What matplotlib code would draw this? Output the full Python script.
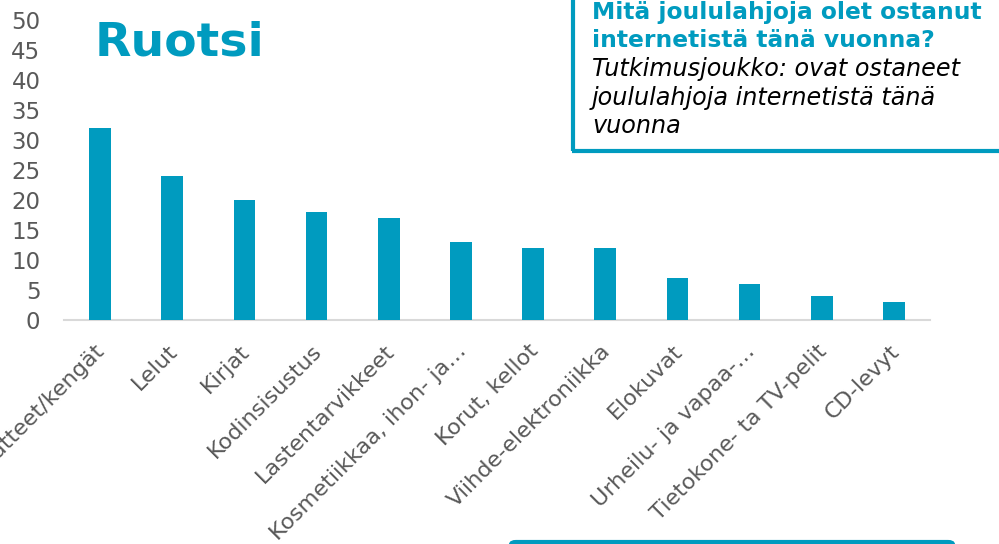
import matplotlib
matplotlib.use("Agg")
import matplotlib.pyplot as plt
from matplotlib.patches import FancyBboxPatch
from matplotlib.lines import Line2D
import matplotlib.transforms as mtransforms

categories = ["Vaatteet/kengät", "Lelut", "Kirjat", "Kodinsisustus", "Lastentarvikkeet",
              "Kosmetiikkaa, ihon- ja…", "Korut, kellot", "Viihde-elektroniikka", "Elokuvat",
              "Urheilu- ja vapaa-…", "Tietokone- ta TV-pelit", "CD-levyt"]
values = [32, 24, 20, 18, 17, 13, 12, 12, 7, 6, 4, 3]
yticks = [0, 5, 10, 15, 20, 25, 30, 35, 40, 45, 50]

W, H = 999, 544
BLUE = "#009BBF"
GRAY = "#595959"

fig = plt.figure(figsize=(W / 100, H / 100), dpi=100)

def fx(x):
    return x / W

def fy(y):
    return 1 - y / H

ax = fig.add_axes([fx(64), fy(320), fx(930) - fx(64), fy(20) - fy(320)])
x = range(len(categories))
ax.bar(x, values, width=0.3, color=BLUE, zorder=3)
ax.set_xlim(-0.5, len(categories) - 0.5)
ax.set_ylim(0, 50)
ax.set_yticks(yticks)
ax.set_yticklabels([str(v) for v in yticks], fontsize=16.5, color=GRAY)
ax.tick_params(axis="y", length=0, pad=17)
ax.set_xticks(list(x))
ax.set_xticklabels(categories, fontsize=16, color=GRAY, rotation=45,
                   ha="right", va="center", rotation_mode="anchor")
ax.tick_params(axis="x", length=0, pad=0)
offset = mtransforms.ScaledTranslation(0.02, -0.28, fig.dpi_scale_trans)
for lab in ax.get_xticklabels():
    lab.set_transform(lab.get_transform() + offset)
for s in ["top", "right", "left"]:
    ax.spines[s].set_visible(False)
ax.spines["bottom"].set_color("#D9D9D9")
ax.spines["bottom"].set_linewidth(1.5)

# Title
fig.text(fx(95), fy(56), "Ruotsi", fontsize=34, fontweight="bold", color=BLUE,
         ha="left", va="baseline")

# Top-right box
fig.add_artist(Line2D([fx(573), fx(573)], [fy(0), fy(151)], color=BLUE, lw=3,
                      transform=fig.transFigure, solid_capstyle="butt"))
fig.add_artist(Line2D([fx(572), fx(1000)], [fy(151), fy(151)], color=BLUE, lw=3,
                      transform=fig.transFigure, solid_capstyle="butt"))
fig.text(fx(592), fy(19), "Mitä joululahjoja olet ostanut", fontsize=16.8,
         fontweight="bold", color=BLUE, ha="left", va="baseline")
fig.text(fx(592), fy(47), "internetistä tänä vuonna?", fontsize=16.8,
         fontweight="bold", color=BLUE, ha="left", va="baseline")
for yy, t in [(76, "Tutkimusjoukko: ovat ostaneet"),
              (105, "joululahjoja internetistä tänä"),
              (133, "vuonna")]:
    fig.text(fx(592), fy(yy), t, fontsize=17.2, style="italic", color="black",
             ha="left", va="baseline")

# Bottom box (partially visible)
box = FancyBboxPatch((fx(511), fy(580)), fx(953) - fx(511), fy(542) - fy(580),
                     boxstyle="round,pad=0,rounding_size=0.005",
                     transform=fig.transFigure, facecolor="none",
                     edgecolor=BLUE, lw=3)
fig.add_artist(box)

fig.savefig("out.png", dpi=100)
